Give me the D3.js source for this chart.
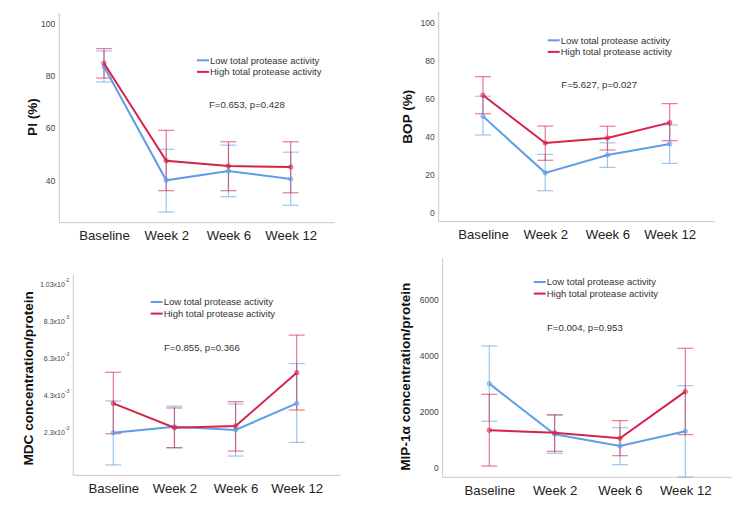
<!DOCTYPE html>
<html>
<head>
<meta charset="utf-8">
<script src="https://cdn.jsdelivr.net/npm/d3@7/dist/d3.min.js"></script>
<style>
  html, body { margin: 0; padding: 0; background: #fff; }
  svg { display: block; font-family: "Liberation Sans", Arial, sans-serif; }
</style>
</head>
<body>
<svg id="chart" width="744" height="520"></svg>
<script>
// ---------- DATA ----------
const categories = ["Baseline", "Week 2", "Week 6", "Week 12"];
const seriesNames = ["Low total protease activity", "High total protease activity"];

// PI (%)
const piLowMean  = [83.7, 40.0, 43.6, 40.5];
const piLowLo    = [77.8, 27.8, 33.7, 30.4];
const piLowHi    = [89.7, 51.9, 53.5, 50.8];
const piHighMean = [85.0, 47.5, 45.5, 45.1];
const piHighLo   = [79.3, 36.0, 36.0, 35.2];
const piHighHi   = [90.6, 59.2, 54.8, 54.8];
const piTicks    = [40, 60, 80, 100];

// BOP (%)
const bopLowMean  = [50.7, 21.0, 30.4, 36.2];
const bopLowLo    = [40.9, 11.6, 23.9, 26.0];
const bopLowHi    = [61.3, 30.7, 36.8, 46.2];
const bopHighMean = [61.8, 36.7, 39.3, 47.4];
const bopHighLo   = [52.1, 27.6, 33.0, 37.9];
const bopHighHi   = [71.6, 45.6, 45.5, 57.4];
const bopTicks    = [0, 20, 40, 60, 80, 100];

// MDC concentration/protein
const mdcLowMean  = [0.00226, 0.00259, 0.00241, 0.00385];
const mdcLowLo    = [0.00052, 0.00145, 0.00100, 0.00174];
const mdcLowHi    = [0.00398, 0.00370, 0.00381, 0.00600];
const mdcHighMean = [0.00385, 0.00253, 0.00262, 0.00551];
const mdcHighLo   = [0.00221, 0.00145, 0.00127, 0.00349];
const mdcHighHi   = [0.00553, 0.00360, 0.00394, 0.00754];
const mdcTicks    = [0.0023, 0.0043, 0.0063, 0.0083, 0.0103];
const mdcTickMant = ["2.3", "4.3", "6.3", "8.3", "1.03"];
const mdcTickExp  = ["-3", "-3", "-3", "-3", "-2"];

// MIP-1α concentration/protein
const mipLowMean  = [2995, 1190, 774, 1297];
const mipLowLo    = [1654, 513, 107, -332];
const mipLowHi    = [4339, 1890, 1426, 2923];
const mipHighMean = [1333, 1248, 1047, 2710];
const mipHighLo   = [61, 584, 428, 1177];
const mipHighHi   = [2616, 1878, 1676, 4257];
const mipTicks    = [0, 2000, 4000, 6000];

const statTexts = ["F=0.653, p=0.428", "F=5.627, p=0.027", "F=0.855, p=0.366", "F=0.004, p=0.953"];
const yTitles = ["PI (%)", "BOP (%)", "MDC concentration/protein", "MIP-1\u03b1 concentration/protein"];

// ---------- LAYOUT ----------
const colors = ["#5e9ee6", "#d6234a"];

function series(mean, lo, hi) {
  return categories.map((c, i) => ({ cat: c, mean: mean[i], lo: lo[i], hi: hi[i] }));
}

const panels = [
  { left: 59.3, right: 335, top: 13, bottom: 222.7, domain: [23.7, 104.3], x0: 104, x1: 290.7,
    ticks: piTicks, tickFmt: d => String(d),
    data: [series(piLowMean, piLowLo, piLowHi), series(piHighMean, piHighLo, piHighHi)],
    ytx: 32, yty: 117, leg: [197, 60.3], stat: [209, 105], title: yTitles[0], statText: statTexts[0] },
  { left: 438.7, right: 715, top: 12, bottom: 221.7, domain: [-4.7, 105.6], x0: 483, x1: 669.7,
    ticks: bopTicks, tickFmt: d => String(d),
    data: [series(bopLowMean, bopLowLo, bopLowHi), series(bopHighMean, bopHighLo, bopHighHi)],
    ytx: 407.7, yty: 116.7, leg: [547.7, 40.3], stat: [561.3, 84.3], title: yTitles[1], statText: statTexts[1] },
  { left: 73.3, right: 340.7, top: 275, bottom: 475.3, domain: [-0.00004, 0.01079], x0: 113.3, x1: 296.7,
    ticks: mdcTicks, sci: true,
    data: [series(mdcLowMean, mdcLowLo, mdcLowHi), series(mdcHighMean, mdcHighLo, mdcHighHi)],
    ytx: 28.3, yty: 378.3, leg: [150.7, 302], stat: [164, 347.3], title: yTitles[2], statText: statTexts[2] },
  { left: 442.7, right: 732, top: 258.3, bottom: 477.3, domain: [-342, 7462], x0: 489.3, x1: 685.3,
    ticks: mipTicks, tickFmt: d => String(d),
    data: [series(mipLowMean, mipLowLo, mipLowHi), series(mipHighMean, mipHighLo, mipHighHi)],
    ytx: 405.3, yty: 376.7, leg: [533.7, 282], stat: [547, 327.7], title: yTitles[3], statText: statTexts[3] }
];

const svg = d3.select("#chart");
svg.append("rect").attr("width", 744).attr("height", 520).attr("fill", "#fff");

panels.forEach(p => {
  const g = svg.append("g");
  const x = d3.scalePoint().domain(categories).range([p.x0, p.x1]);
  const y = d3.scaleLinear().domain(p.domain).range([p.bottom, p.top]);

  // Axes lines
  g.append("line").attr("x1", p.left).attr("x2", p.left).attr("y1", p.top).attr("y2", p.bottom)
    .attr("stroke", "#c8c8c8").attr("stroke-width", 1);
  g.append("line").attr("x1", p.left).attr("x2", p.right).attr("y1", p.bottom).attr("y2", p.bottom)
    .attr("stroke", "#c8c8c8").attr("stroke-width", 1);

  // Y tick labels via d3 axis (no tick marks)
  const yAxis = d3.axisLeft(y).tickValues(p.ticks).tickSize(0).tickPadding(4)
    .tickFormat(p.sci ? (() => "") : p.tickFmt);
  const ya = g.append("g").attr("transform", `translate(${p.left},0)`).call(yAxis);
  ya.select(".domain").remove();
  ya.selectAll("text").attr("fill", "#444").attr("font-size", 8.5)
    .attr("font-family", "'Liberation Sans', Arial, sans-serif");
  if (p.sci) {
    ya.selectAll(".tick text").each(function(d, i) {
      const t = d3.select(this).text(null).attr("font-size", 7).attr("dy", "0.32em");
      t.append("tspan").text(mdcTickMant[i] + "x10");
      t.append("tspan").text(mdcTickExp[i]).attr("font-size", 5).attr("dy", "-0.9em");
    });
  }

  // X labels via d3 axis
  const xAxis = d3.axisBottom(x).tickSize(0).tickPadding(8);
  const xa = g.append("g").attr("transform", `translate(0,${p.bottom})`).call(xAxis);
  xa.select(".domain").remove();
  xa.selectAll("text").attr("fill", "#222").attr("font-size", 13.2)
    .attr("font-family", "'Liberation Sans', Arial, sans-serif");

  // Error bars
  p.data.forEach((s, si) => {
    const eg = g.append("g").attr("stroke", colors[si]).attr("stroke-opacity", 0.6).attr("stroke-width", 1.2);
    s.forEach(d => {
      const cx = x(d.cat);
      eg.append("line").attr("x1", cx).attr("x2", cx).attr("y1", y(d.lo)).attr("y2", y(d.hi));
      eg.append("line").attr("x1", cx - 8).attr("x2", cx + 8).attr("y1", y(d.lo)).attr("y2", y(d.lo));
      eg.append("line").attr("x1", cx - 8).attr("x2", cx + 8).attr("y1", y(d.hi)).attr("y2", y(d.hi));
    });
  });

  // Lines and markers
  const line = d3.line().x(d => x(d.cat)).y(d => y(d.mean));
  p.data.forEach((s, si) => {
    g.append("path").datum(s).attr("d", line).attr("fill", "none")
      .attr("stroke", colors[si]).attr("stroke-width", 2);
    g.selectAll(null).data(s).enter().append("circle")
      .attr("cx", d => x(d.cat)).attr("cy", d => y(d.mean)).attr("r", 2.3)
      .attr("fill", colors[si]).attr("fill-opacity", 0.5)
      .attr("stroke", colors[si]).attr("stroke-opacity", 0.6).attr("stroke-width", 0.8);
  });

  // Legend
  seriesNames.forEach((name, si) => {
    const ly = p.leg[1] + si * 11.6;
    g.append("line").attr("x1", p.leg[0]).attr("x2", p.leg[0] + 12).attr("y1", ly).attr("y2", ly)
      .attr("stroke", colors[si]).attr("stroke-width", 2);
    g.append("text").attr("x", p.leg[0] + 13).attr("y", ly).attr("dy", "0.35em")
      .attr("font-size", 9.5).attr("fill", "#333").text(name);
  });

  // Statistic text
  g.append("text").attr("x", p.stat[0]).attr("y", p.stat[1]).attr("dy", "0.35em")
    .attr("font-size", 9.6).attr("fill", "#333").text(p.statText);

  // Y title
  g.append("text").attr("transform", `translate(${p.ytx},${p.yty}) rotate(-90)`)
    .attr("text-anchor", "middle").attr("dy", "0.35em")
    .attr("font-size", 13.6).attr("font-weight", "bold").attr("fill", "#111").text(p.title);
});
</script>
</body>
</html>
